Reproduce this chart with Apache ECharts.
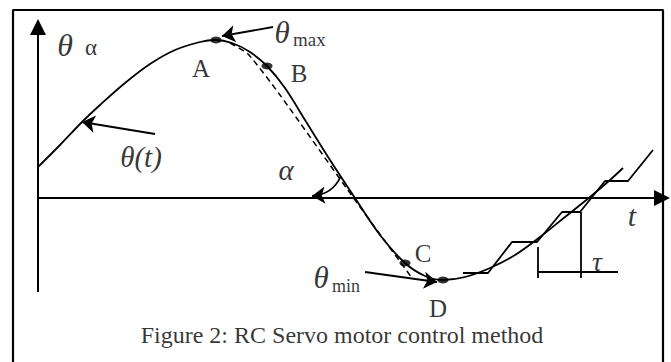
<!DOCTYPE html>
<html>
<head>
<meta charset="utf-8">
<script src="https://cdn.jsdelivr.net/npm/echarts@6/dist/echarts.min.js"></script>
<style>
  html, body { margin: 0; padding: 0; background: #fff; }
  #chart { width: 671px; height: 362px; }
</style>
</head>
<body>
<div id="chart"></div>
<script>
// Servo angle theta(t) over time, with the sampled (stepped) command signal.
// Units: t and theta are in arbitrary schematic units.
const curveT     = [0, 2.2, 4.4, 6.2, 8.7, 11.2, 13.7, 16.2, 17.7, 19.4, 21.2, 22.9, 24.7, 26.7, 29.2, 31.7, 34.2, 36.7, 38.7, 40.5, 42.7, 45.2, 47.7, 50.2, 52.7, 55.2, 57.2, 58.5];
const curveTheta = [3.1, 5.3, 7.6, 9.3, 11.5, 13.4, 14.8, 15.6, 15.8, 15.5, 14.6, 13.2, 11.0, 7.8, 3.8, 0, -3.7, -6.5, -7.8, -8.2, -7.9, -7.0, -5.7, -3.9, -1.9, 0.1, 1.8, 3.0];

// Linearised descent (slope alpha) between the maximum and minimum
const slopeT     = [19.2, 21.0, 24.2, 31.7, 37.4];
const slopeTheta = [15.5, 14.4, 10.3, -0.2, -8.0];

// Stepped command signal, one step per period tau
const stepT     = [42.5, 45.0, 47.4, 49.9, 52.4, 54.2, 56.7, 59.0, 61.5];
const stepTheta = [-7.5, -7.5, -4.4, -4.4, -1.4, -1.4, 1.7, 1.7, 4.8];

// Marked points on the curve
const pointNames = ['A', 'B', 'C', 'D'];
const pointT     = [17.8, 22.9, 36.7, 40.5];
const pointTheta = [15.8, 13.2, -6.5, -8.2];

// Axis extents
const tAxisEnd = 62.4;
const thetaAxisTop = 17.1;
const thetaAxisBottom = -9.4;

// Period tau brackets
const tauStartT = 50.0, tauEndT = 54.3;
const tauTickTop = [-4.9, -1.4];
const tauBarTheta = -7.4, tauBarEnd = 58.0, tauTickBottom = -8.0;

// Surrounding frame (open at the bottom)
const frameT     = [-2.5, -2.5, 62.5, 62.5];
const frameTheta = [-17.0, 18.8, 18.8, -17.0];

const serif = '"Liberation Serif", "Times New Roman", serif';

const zip = (a, b) => a.map((v, i) => [v, b[i]]);

// Text annotations: [t, theta, text, fontSize, italic, align]
const texts = [
  [2.7, 15.3, 'θ', 32, true, 'center'],
  [5.3, 15.1, 'α', 23, false, 'center'],
  [16.3, 13.0, 'A', 25, false, 'center'],
  [26.1, 12.5, 'B', 25, false, 'center'],
  [24.4, 16.6, 'θ', 31, true, 'center'],
  [25.5, 15.9, 'max', 19, false, 'left'],
  [10.3, 4.1, 'θ(t)', 29, true, 'center'],
  [24.8, 2.8, 'α', 29, true, 'center'],
  [59.4, -1.7, 't', 30, true, 'center'],
  [55.9, -6.3, 'τ', 28, true, 'center'],
  [38.5, -5.5, 'C', 25, false, 'center'],
  [40.0, -11.0, 'D', 25, false, 'center'],
  [28.3, -7.9, 'θ', 31, true, 'center'],
  [29.4, -8.8, 'min', 18, false, 'left'],
  [30.4, -13.7, 'Figure 2: RC Servo motor control method', 24, false, 'center']
];

// Annotation arrows: [fromT, fromTheta, toT, toTheta, curveness]
const arrows = [
  [11.7, 6.4, 4.4, 7.6, 0],
  [23.5, 17.1, 18.4, 16.2, 0],
  [30.3, 2.2, 27.4, 0.2, 0.3],
  [32.7, -7.4, 39.9, -8.4, 0]
];

const chart = echarts.init(document.getElementById('chart'), null, { renderer: 'svg' });

const ink = '#000';

chart.setOption({
  animation: false,
  backgroundColor: '#fff',
  grid: { left: 0, right: 0, top: 0, bottom: 0, show: false },
  xAxis: { type: 'value', min: -3.8, max: 63.3, show: false },
  yAxis: { type: 'value', min: -16.4, max: 19.8, show: false },
  series: [
    // frame
    {
      type: 'line', data: zip(frameT, frameTheta),
      showSymbol: false, lineStyle: { color: ink, width: 2.2 }, silent: true
    },
    // axes with arrowheads
    {
      type: 'lines', coordinateSystem: 'cartesian2d', polyline: false,
      symbol: ['none', 'triangle'], symbolSize: 16,
      lineStyle: { color: ink, width: 2, opacity: 1, curveness: 0 },
      silent: true,
      data: [
        { coords: [[0, thetaAxisBottom], [0, thetaAxisTop]] },
        { coords: [[0, 0], [tAxisEnd, 0]] }
      ]
    },
    // theta(t)
    {
      type: 'line', data: zip(curveT, curveTheta), smooth: 0.35,
      showSymbol: false, lineStyle: { color: ink, width: 1.8 }, silent: true
    },
    // linearised slope
    {
      type: 'line', data: zip(slopeT, slopeTheta), smooth: 0.2,
      showSymbol: false, lineStyle: { color: ink, width: 1.5, type: [6, 4] }, silent: true
    },
    // stepped command
    {
      type: 'line', data: zip(stepT, stepTheta),
      showSymbol: false, lineStyle: { color: ink, width: 1.8 }, silent: true
    },
    // tau brackets
    {
      type: 'lines', coordinateSystem: 'cartesian2d',
      symbol: ['none', 'none'],
      lineStyle: { color: ink, width: 1.8, opacity: 1 },
      silent: true,
      data: [
        { coords: [[tauStartT, tauTickTop[0]], [tauStartT, tauTickBottom]] },
        { coords: [[tauEndT, tauTickTop[1]], [tauEndT, tauTickBottom]] },
        { coords: [[tauStartT, tauBarTheta], [tauBarEnd, tauBarTheta]] }
      ]
    },
    // annotation arrows
    {
      type: 'lines', coordinateSystem: 'cartesian2d',
      symbol: ['none', 'arrow'], symbolSize: 13,
      lineStyle: { color: ink, width: 1.8, opacity: 1 },
      silent: true,
      data: arrows.map(a => ({
        coords: [[a[0], a[1]], [a[2], a[3]]],
        lineStyle: { curveness: a[4] }
      }))
    },
    // marked points
    {
      type: 'scatter', symbol: 'circle', symbolSize: [11, 7],
      itemStyle: { color: ink },
      silent: true,
      data: pointNames.map((n, i) => ({ name: n, value: [pointT[i], pointTheta[i]] }))
    },
    // labels
    {
      type: 'scatter', symbolSize: 0, silent: true,
      data: texts.map(s => ({
        value: [s[0], s[1]],
        label: {
          show: true, position: 'inside', formatter: s[2],
          color: ink, fontFamily: serif, fontSize: s[3],
          fontStyle: s[4] ? 'italic' : 'normal',
          align: s[5], verticalAlign: 'middle'
        }
      }))
    }
  ]
});
</script>
</body>
</html>
